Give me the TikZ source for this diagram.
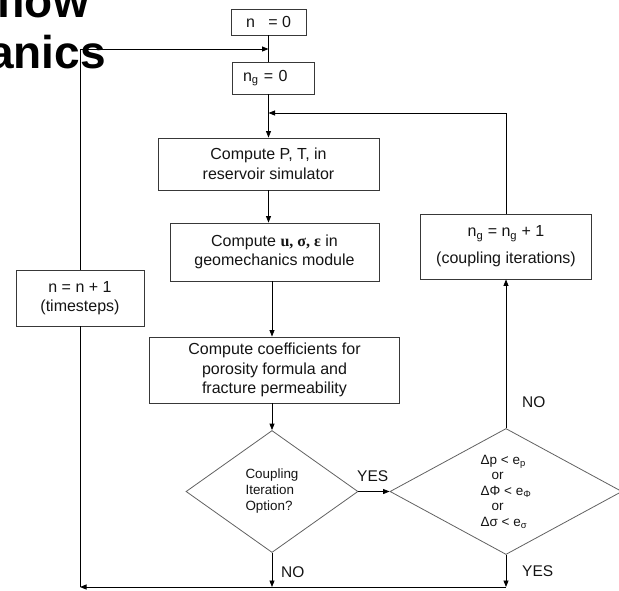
\documentclass[tikz,border=0pt]{standalone}
\usepackage{fontspec}
\setmainfont{Liberation Sans}
\newfontfamily\serifb{Liberation Serif}
\usetikzlibrary{shapes.geometric,arrows.meta}
\begin{document}
\begin{tikzpicture}[x=1pt,y=-1pt,
  box/.style={draw=black!78, line width=0.9pt, inner sep=0pt, align=center,
    font=\fontsize{16}{19.5}\selectfont, text=black!92},
  dec/.style={diamond, draw=black!62, line width=0.8pt, inner sep=0pt,
    align=left, text=black!92},
  arr/.style={-{Triangle[length=6.5pt,width=5pt]}, line width=0.8pt},
  ln/.style={line width=0.8pt},
  lab/.style={font=\fontsize{15.5}{18}\selectfont, anchor=west, inner sep=0pt, text=black!92},
  ttl/.style={font=\fontsize{46}{50}\selectfont\bfseries, anchor=base east, inner sep=0pt}]
\useasboundingbox (0,0) rectangle (619,590);
\begin{scope}
\clip (0,0) rectangle (619,590);
% title fragments
\node[ttl] (t1) at (89,17) {flow};
\node[ttl] (t2) at (106,68) {anics};
% helper levels
\coordinate (loopy) at (0,49);
\coordinate (riby) at (0,113);
\coordinate (boty) at (0,587);
% boxes
\node[box, minimum width=75pt, minimum height=26pt] (n0) at (268.5,22) {n~~~= 0};
\node[box, text width=60pt, align=left, inner xsep=11pt, minimum height=32pt] (ng0) at (273,78) {n\textsubscript{g} = 0};
\node[box, minimum width=221pt, minimum height=52pt] (pt) at (268.5,164) {Compute P, T, in\\reservoir simulator};
\node[box, minimum width=209pt, minimum height=58pt] (u) at (274.5,252) {Compute {\serifb\bfseries u, σ, ε} in\\geomechanics module};
\node[box, minimum width=250pt, minimum height=66pt] (coef) at (274.5,370) {Compute coefficients for\\porosity formula and\\fracture permeability};
\node[box, minimum width=171pt, minimum height=65pt] (ngb) at (506,246.5) {n\textsubscript{g} = n\textsubscript{g} + 1\\[7.5pt](coupling iterations)};
\node[box, minimum width=128pt, minimum height=56pt] (nb) at (80,298) {n = n + 1\\(timesteps)};
% decisions
\node[dec, minimum width=172pt, minimum height=122pt, font=\fontsize{13.4}{16}\selectfont] (d1) at (272,491.5) {Coupling\\Iteration\\Option?};
\node[dec, minimum width=232pt, minimum height=126pt, font=\fontsize{13.5}{15.5}\selectfont] (d2) at (506,491.5)
  {Δp < e\textsubscript{p}\\\hspace*{11pt}or\\ΔΦ < e\textsubscript{Φ}\\\hspace*{11pt}or\\Δσ < e\textsubscript{σ}};
% connectors
\draw[ln] (n0.south) -- (n0.south |- ng0.north);
\draw[arr] (ng0.south -| n0.south) -- (pt.north -| n0.south);
\draw[arr] (pt.south) -- (pt.south |- u.north);
\draw[arr] (u.south -| d1.north) -- (coef.north -| d1.north);
\draw[arr] (coef.south -| d1.north) -- (d1.north);
\draw[arr] (d1.east) -- (d2.west);
\draw[arr] (d2.north) -- (ngb.south);
\draw[arr] (ngb.north) |- (n0.south |- riby);
\draw[arr] (d1.south) -- (d1.south |- boty);
\draw[arr] (d2.south) -- (d2.south |- boty);
\draw[arr] (d2.south |- boty) -- (nb.south |- boty);
\draw[ln] (nb.south |- boty) -- (nb.south);
\draw[arr] (nb.north) |- (n0.south |- loopy);
% labels
\node[lab] (yes1) at (357,476) {YES};
\node[lab] (no2) at (522,402) {NO};
\node[lab] (no1) at (281,572) {NO};
\node[lab] (yes2) at (522,571) {YES};
\end{scope}
\end{tikzpicture}
\end{document}
